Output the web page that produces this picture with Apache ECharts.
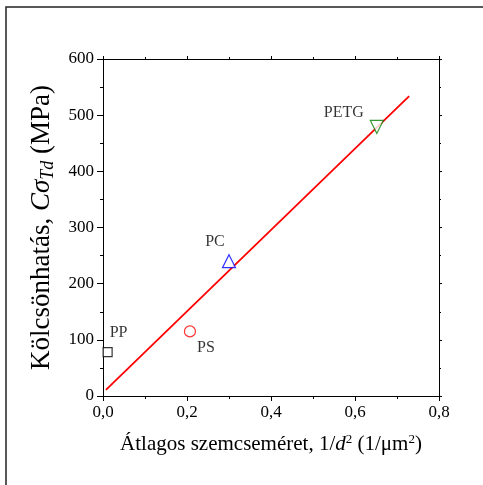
<!DOCTYPE html>
<html>
<head>
<meta charset="utf-8">
<title>Kölcsönhatás</title>
<script src="https://cdn.jsdelivr.net/npm/echarts@6/dist/echarts.min.js"></script>
<style>
    html, body { margin: 0; padding: 0; background: #fff; }
    #chart { width: 483px; height: 485px; }
</style>
</head>
<body>
<div id="chart"></div>
<script>
// anyagok és mért pontok
var materials = ['PP', 'PS', 'PC', 'PETG'];
var xValues = [0.011, 0.207, 0.300, 0.652];
var yValues = [78, 115, 240, 479];
// illesztett egyenes végpontjai
var fitX = [0.007, 0.729];
var fitY = [11, 534];
var xTicks = [0, 0.2, 0.4, 0.6, 0.8];
var yTicks = [0, 100, 200, 300, 400, 500, 600];

var font = 'Liberation Serif';
var symbols = ['rect', 'circle', 'triangle', 'triangle'];
var rotates = [0, 0, 0, 180];
var colors = ['#000000', '#ff0000', '#0000ff', '#008000'];
var labelOffsets = [[11, -19], [16, 16], [-14, -19], [-33, -14]];
var sizes = [9, 11, 13, 13];

var chart = echarts.init(document.getElementById('chart'));

var series = [{
    type: 'line',
    data: [[fitX[0], fitY[0]], [fitX[1], fitY[1]]],
    showSymbol: false,
    symbol: 'none',
    lineStyle: { color: '#ff0000', width: 1.8 },
    z: 2,
    silent: true
}];
materials.forEach(function (name, i) {
    series.push({
        name: name,
        type: 'scatter',
        data: [[xValues[i], yValues[i]]],
        symbol: symbols[i],
        symbolRotate: rotates[i],
        symbolSize: sizes[i],
        itemStyle: { color: '#fff', borderColor: colors[i], borderWidth: 1.2 },
        label: {
            show: true,
            position: 'inside',
            offset: labelOffsets[i],
            formatter: name,
            fontFamily: font,
            fontSize: 16,
            color: '#000'
        },
        z: 3
    });
});

var tickLine = { color: '#000', width: 1 };

var option = {
    animation: false,
    textStyle: { fontFamily: font },
    grid: { left: 103, right: 44, top: 59, bottom: 89 },
    graphic: [{
        type: 'polyline',
        shape: { points: [[6, 485], [6, 7], [483, 7]] },
        style: { stroke: '#222', lineWidth: 1.5, fill: null },
        silent: true
    }],
    xAxis: [{
        type: 'value',
        min: xTicks[0],
        max: xTicks[xTicks.length - 1],
        interval: 0.2,
        position: 'bottom',
        name: '{n|Átlagos szemcseméret, 1/}{i|d}{s|2}{n| (1/μm}{s|2}{n|)}',
        nameLocation: 'middle',
        nameGap: 37,
        nameTextStyle: {
            rich: {
                n: { fontFamily: font, fontSize: 21, color: '#000' },
                i: { fontFamily: font, fontSize: 21, fontStyle: 'italic', color: '#000' },
                s: { fontFamily: font, fontSize: 13, color: '#000', verticalAlign: 'top', padding: [0, 0, 10, 0] }
            }
        },
        axisLine: { show: true, onZero: false, lineStyle: tickLine },
        axisTick: { show: true, inside: false, length: 5, lineStyle: tickLine },
        minorTick: { show: true, splitNumber: 2, length: 3, lineStyle: tickLine },
        splitLine: { show: false },
        axisLabel: {
            fontFamily: font, fontSize: 17, color: '#000', margin: 8,
            formatter: function (v) { return v.toFixed(1).replace('.', ','); }
        }
    }, {
        type: 'value',
        min: xTicks[0],
        max: xTicks[xTicks.length - 1],
        interval: 0.2,
        position: 'top',
        axisLine: { show: true, onZero: false, lineStyle: tickLine },
        axisTick: { show: true, inside: false, length: 3, lineStyle: tickLine },
        minorTick: { show: true, splitNumber: 2, length: 2, lineStyle: tickLine },
        splitLine: { show: false },
        axisLabel: { show: false }
    }],
    yAxis: [{
        type: 'value',
        min: yTicks[0],
        max: yTicks[yTicks.length - 1],
        interval: 100,
        position: 'left',
        name: '{n|Kölcsönhatás, }{i|Cσ}{sub|Td}{n| (MPa)}',
        nameLocation: 'middle',
        nameGap: 46,
        nameTextStyle: {
            rich: {
                n: { fontFamily: font, fontSize: 27, color: '#000' },
                i: { fontFamily: font, fontSize: 27, fontStyle: 'italic', color: '#000' },
                sub: { fontFamily: font, fontSize: 18, fontStyle: 'italic', color: '#000', verticalAlign: 'bottom', padding: [12, 0, 0, 0] }
            }
        },
        axisLine: { show: true, onZero: false, lineStyle: tickLine },
        axisTick: { show: true, inside: false, length: 6, lineStyle: tickLine },
        minorTick: { show: true, splitNumber: 2, length: 3, lineStyle: tickLine },
        splitLine: { show: false },
        axisLabel: { fontFamily: font, fontSize: 17, color: '#000', margin: 9 }
    }, {
        type: 'value',
        min: yTicks[0],
        max: yTicks[yTicks.length - 1],
        interval: 100,
        position: 'right',
        axisLine: { show: true, onZero: false, lineStyle: tickLine },
        axisTick: { show: true, inside: false, length: 3, lineStyle: tickLine },
        minorTick: { show: true, splitNumber: 2, length: 2, lineStyle: tickLine },
        splitLine: { show: false },
        axisLabel: { show: false }
    }],
    series: series
};
chart.setOption(option);
</script>
</body>
</html>
